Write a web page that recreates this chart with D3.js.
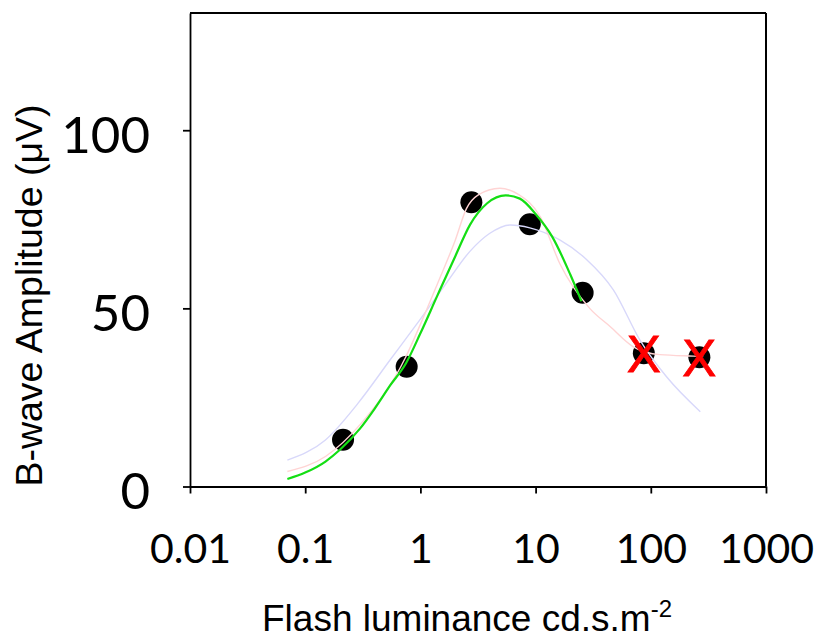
<!DOCTYPE html>
<html>
<head>
<meta charset="utf-8">
<script src="https://cdn.jsdelivr.net/npm/d3@7"></script>
<style>
  body { margin: 0; background: #fff; }
  svg { display: block; }
</style>
</head>
<body>
<svg id="chart" width="817" height="641"></svg>
<script>
// Measured b-wave amplitudes per flash luminance
const luminance = [0.213, 0.76, 2.77, 8.9, 25.6, 87, 264];
const amplitude = [13.1, 33.6, 79.8, 73.6, 54.4, 37.4, 36.3];
const excluded  = [false, false, false, false, false, true, true];

// Fitted response curves
const greenFitX = [0.07, 0.1, 0.15, 0.2, 0.3, 0.4, 0.55, 0.75, 1, 1.4, 2, 2.7, 3.8, 5.5, 7.3, 10, 14, 20, 25];
const greenFitY = [2.1, 3.9, 7.0, 10.3, 16.3, 21.8, 28.5, 34.6, 43, 53.5, 64.5, 73.5, 79.5, 81.7, 80.8, 76.5, 70, 59.5, 52];

const pinkFitX = [0.07, 0.151, 0.302, 0.75, 1, 1.41, 2, 2.51, 3.16, 4.9, 7.08, 11, 16.2, 29.5, 44.3, 70.5, 120, 234, 285];
const pinkFitY = [4.2, 8.5, 17.5, 36.5, 45.5, 57, 69, 78, 81.8, 83.7, 82, 75.7, 62.6, 50, 44.9, 39.2, 37, 36.6, 36.5];

const blueFitX = [0.07, 0.149, 0.288, 0.545, 1, 1.64, 2.69, 3.98, 6.03, 8.91, 16.2, 27.5, 47.3, 80.5, 137, 269];
const blueFitY = [7.4, 13, 23.4, 35.5, 47, 56.6, 66, 71, 73.4, 72.6, 69.2, 63.8, 55.2, 41.1, 30.8, 21];

// Axis ticks
const xTicks = [0.01, 0.1, 1, 10, 100, 1000];
const xTickLabels = ["0.01", "0.1", "1", "10", "100", "1000"];
const yTicks = [0, 50, 100];
const yTickLabels = ["0", "50", "100"];

const xTitle = "Flash luminance cd.s.m";
const xTitleSup = "-2";
const yTitle = "B-wave Amplitude (\u03bcV)";

const plot = { left: 190, right: 766, top: 13, bottom: 486.5 };

const svg = d3.select("#chart");

const x = d3.scaleLog().domain([0.01, 1000]).range([plot.left, plot.right]);
const y = d3.scaleLinear().domain([0, 132.9]).range([plot.bottom, plot.top]);

// Frame: top and right edges
svg.append("line")
  .attr("x1", plot.left).attr("x2", plot.right)
  .attr("y1", plot.top).attr("y2", plot.top)
  .attr("stroke", "#000").attr("stroke-width", 2.2);
svg.append("line")
  .attr("x1", plot.right).attr("x2", plot.right)
  .attr("y1", plot.top).attr("y2", plot.bottom)
  .attr("stroke", "#000").attr("stroke-width", 2);

// X axis
const xAxis = svg.append("g")
  .attr("transform", `translate(0,${plot.bottom})`)
  .call(d3.axisBottom(x).tickValues(xTicks).tickSize(7).tickSizeOuter(0)
    .tickFormat((d, i) => xTickLabels[i]));
xAxis.select(".domain").attr("stroke-width", 1.8);
xAxis.selectAll(".tick line").attr("stroke-width", 1.8);
xAxis.selectAll(".tick text")
  .attr("y", 76).attr("dy", 0)
  .attr("font-family", "Lato, sans-serif")
  .attr("font-size", 41)
  .attr("fill", "#000");

// Y axis
const yAxis = svg.append("g")
  .attr("transform", `translate(${plot.left},0)`)
  .call(d3.axisLeft(y).tickValues(yTicks).tickSize(7).tickSizeOuter(0)
    .tickFormat((d, i) => yTickLabels[i]));
yAxis.select(".domain").attr("stroke-width", 1.8);
yAxis.selectAll(".tick line").attr("stroke-width", 1.8);
yAxis.selectAll(".tick text")
  .attr("x", -40).attr("dy", "0.43em")
  .attr("font-family", "Lato, sans-serif")
  .attr("font-size", 51)
  .attr("fill", "#000");
svg.selectAll(".domain, .tick line").attr("stroke", "#000");

// Data points
svg.append("g").selectAll("circle")
  .data(luminance.map((l, i) => ({ l, a: amplitude[i] })))
  .join("circle")
  .attr("cx", d => x(d.l))
  .attr("cy", d => y(d.a))
  .attr("r", 11)
  .attr("fill", "#000");

// Fit curves
const line = d3.line()
  .x(d => x(d[0]))
  .y(d => y(d[1]))
  .curve(d3.curveMonotoneX);

const fits = [
  { xs: blueFitX, ys: blueFitY, color: "#d8d8fa", width: 1.4 },
  { xs: pinkFitX, ys: pinkFitY, color: "#ffd4d4", width: 1.4 },
  { xs: greenFitX, ys: greenFitY, color: "#14de14", width: 2.2 }
];
fits.forEach(f => {
  svg.append("path")
    .datum(f.xs.map((v, i) => [v, f.ys[i]]))
    .attr("d", line)
    .attr("fill", "none")
    .attr("stroke", f.color)
    .attr("stroke-width", f.width);
});

// Excluded points marked with a red cross
svg.append("g").selectAll("text")
  .data(luminance.map((l, i) => ({ l, a: amplitude[i], ex: excluded[i] })).filter(d => d.ex))
  .join("text")
  .attr("x", d => x(d.l))
  .attr("y", d => y(d.a))
  .attr("dy", "0.36em")
  .attr("text-anchor", "middle")
  .attr("font-family", "Liberation Sans, Arial, sans-serif")
  .attr("font-size", 51)
  .attr("stroke", "#ff0000")
  .attr("stroke-width", 0.8)
  .attr("fill", "#ff0000")
  .text("X");

// Axis titles
const xt = svg.append("text")
  .attr("x", 262).attr("y", 631)
  .attr("font-family", "Liberation Sans, Arial, sans-serif")
  .attr("font-size", 37)
  .attr("fill", "#000");
xt.append("tspan").text(xTitle);
xt.append("tspan").attr("dy", -14).attr("font-size", 24).text(xTitleSup);

svg.append("text")
  .attr("transform", "translate(42,295.5) rotate(-90)")
  .attr("text-anchor", "middle")
  .attr("font-family", "Liberation Sans, Arial, sans-serif")
  .attr("font-size", 37.5)
  .attr("fill", "#000")
  .text(yTitle);
</script>
</body>
</html>
